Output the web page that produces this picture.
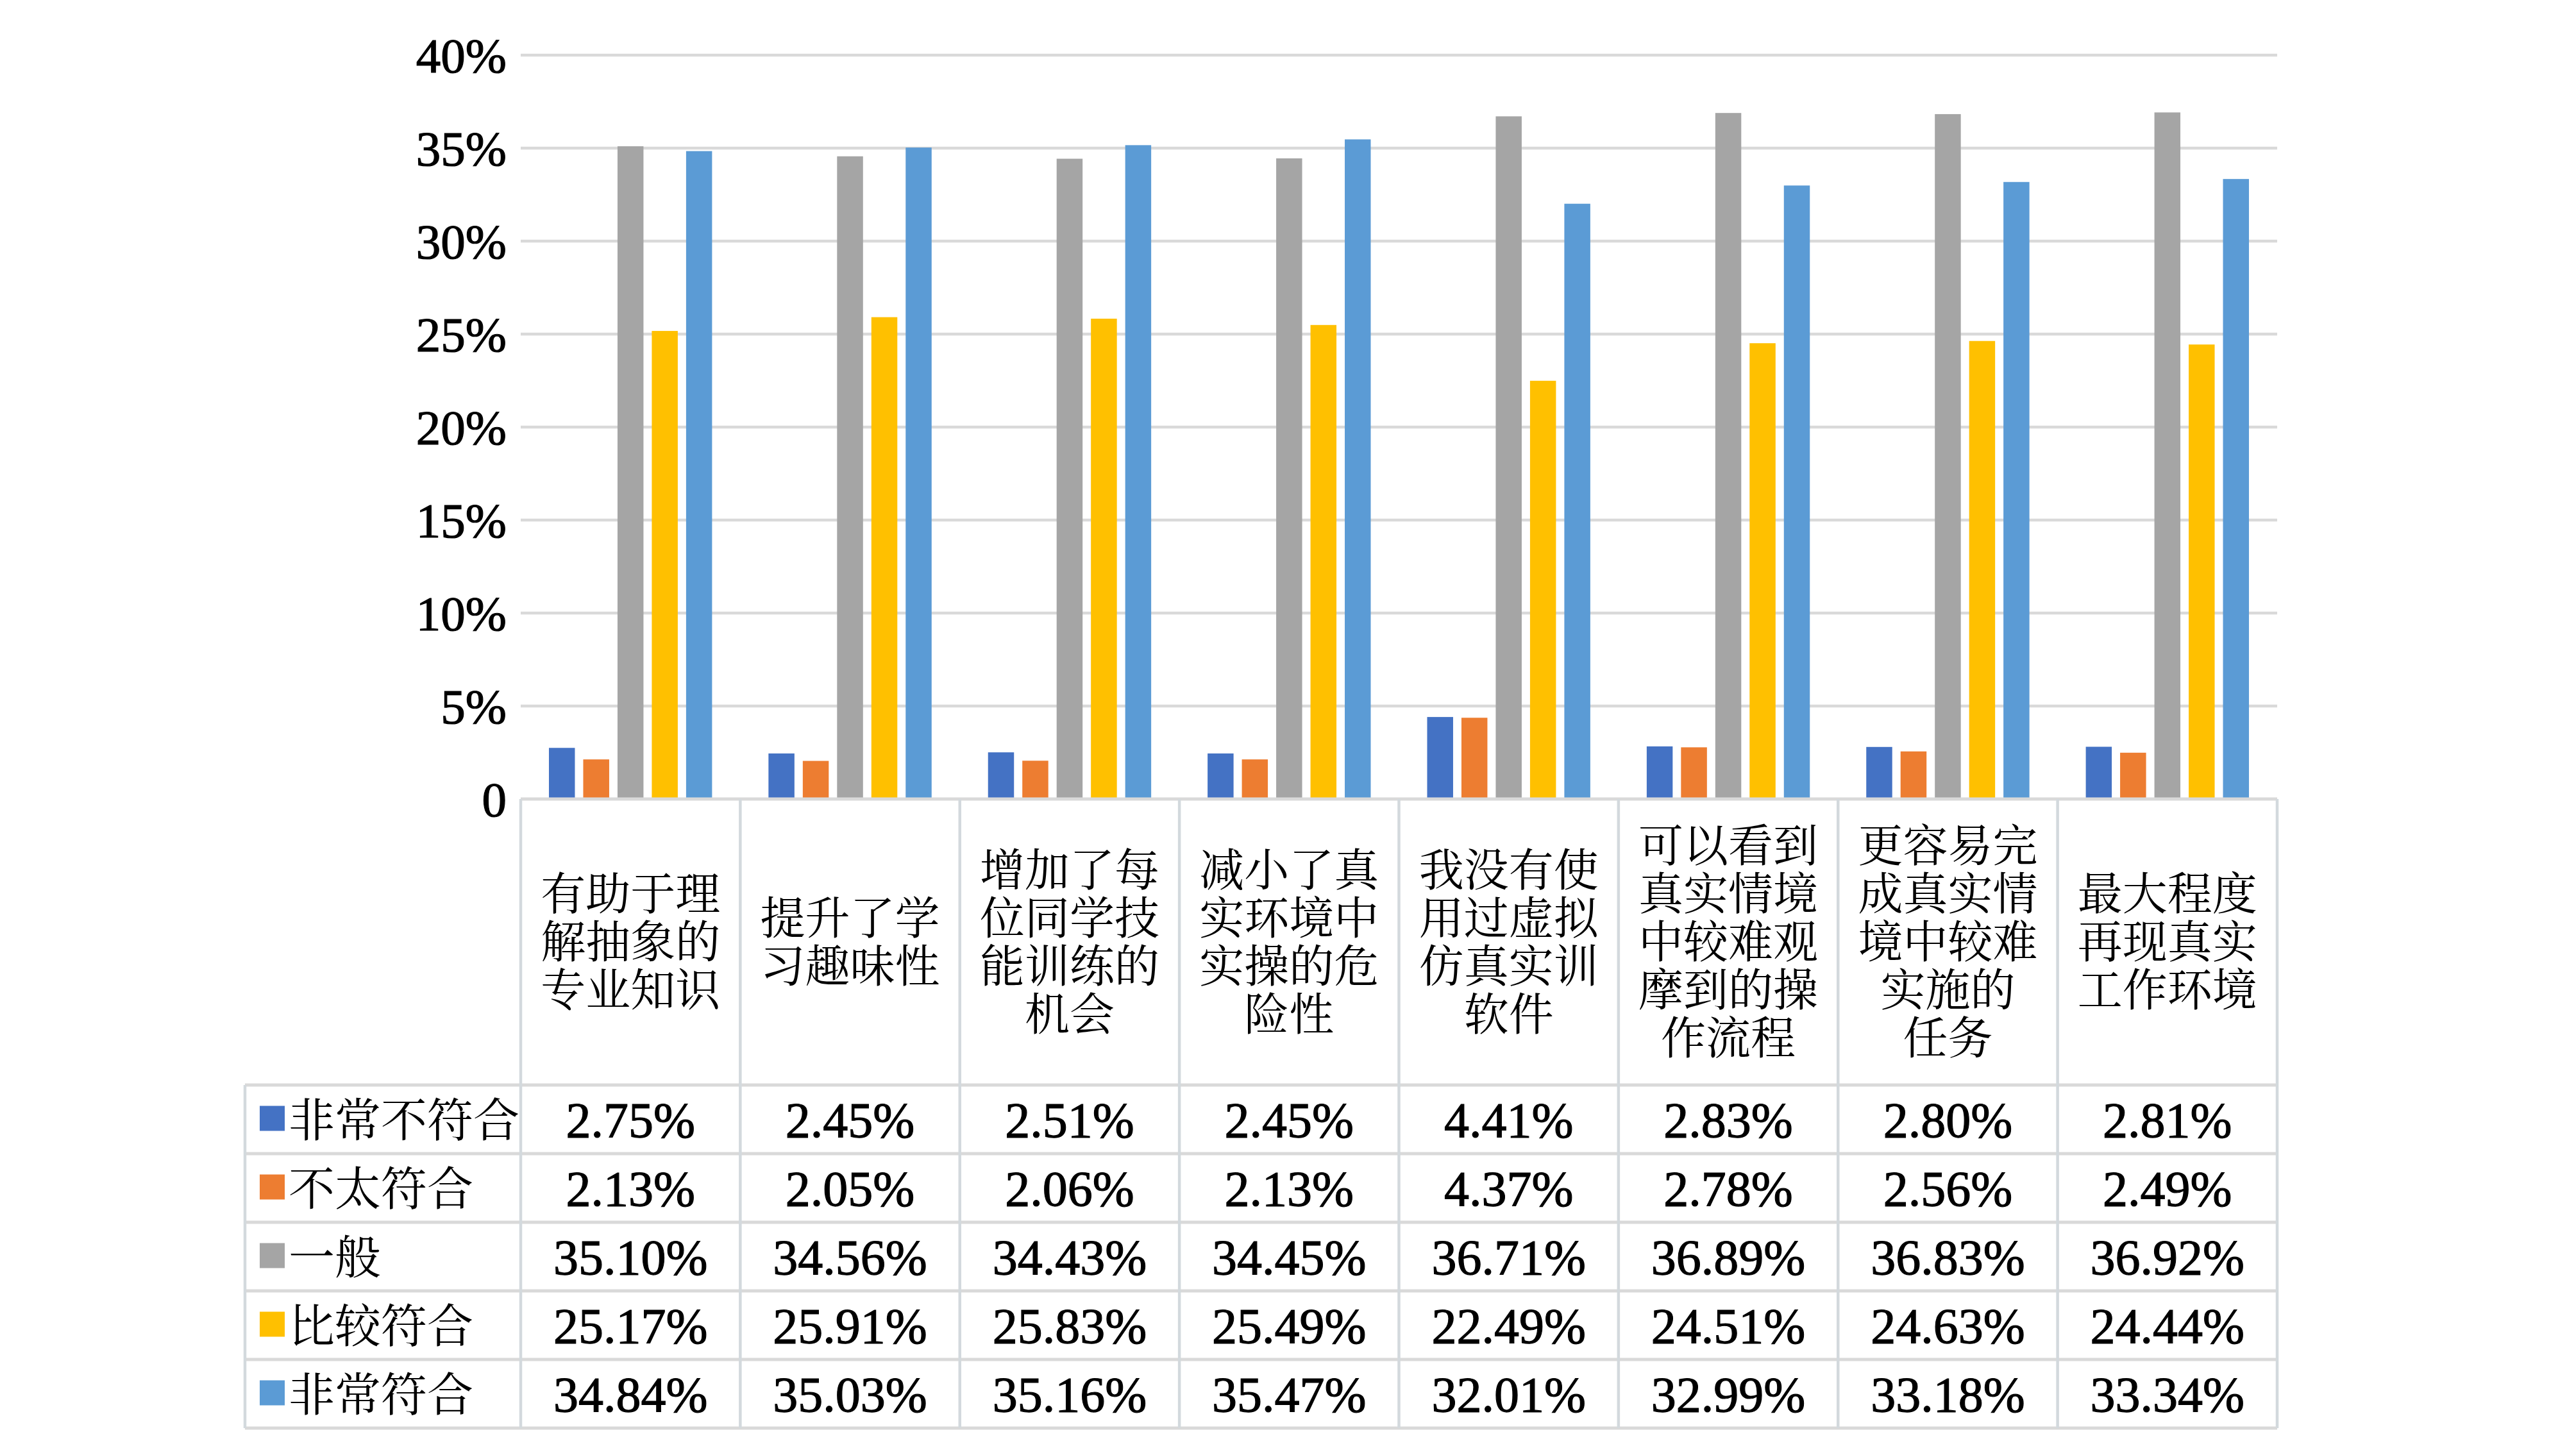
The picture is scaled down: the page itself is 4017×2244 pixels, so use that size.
<!DOCTYPE html>
<html>
<head>
<meta charset="utf-8">
<script src="https://cdn.jsdelivr.net/npm/d3@7"></script>
<style>
  body { margin: 0; background: #fff; }
</style>
</head>
<body>
<div id="chart"></div>
<script>
// categories, one entry per wrapped line as in the picture
var categories = [
    ["有助于理", "解抽象的", "专业知识"],
    ["提升了学", "习趣味性"],
    ["增加了每", "位同学技", "能训练的", "机会"],
    ["减小了真", "实环境中", "实操的危", "险性"],
    ["我没有使", "用过虚拟", "仿真实训", "软件"],
    ["可以看到", "真实情境", "中较难观", "摩到的操", "作流程"],
    ["更容易完", "成真实情", "境中较难", "实施的", "任务"],
    ["最大程度", "再现真实", "工作环境"]
];

var seriesNames = ["非常不符合", "不太符合", "一般", "比较符合", "非常符合"];
var seriesColors = ["#4472C4", "#ED7D31", "#A5A5A5", "#FFC000", "#5B9BD5"];

// values in percent
var veryNot = [2.75, 2.45, 2.51, 2.45, 4.41, 2.83, 2.80, 2.81];
var notQuite = [2.13, 2.05, 2.06, 2.13, 4.37, 2.78, 2.56, 2.49];
var neutral = [35.10, 34.56, 34.43, 34.45, 36.71, 36.89, 36.83, 36.92];
var fairly = [25.17, 25.91, 25.83, 25.49, 22.49, 24.51, 24.63, 24.44];
var very = [34.84, 35.03, 35.16, 35.47, 32.01, 32.99, 33.18, 33.34];

var yTicks = [0, 5, 10, 15, 20, 25, 30, 35, 40];

var seriesValues = [veryNot, notQuite, neutral, fairly, very];

var width = 4017;
var height = 2244;

var plotLeft = 812;
var plotRight = 3551;
var plotTop = 86;
var plotBottom = 1246;
var headerBottom = 1692;
var rowHeight = 107;
var tableLeft = 382;
var lineColor = "#d9d9d9";
var colLineColor = "#d3d9dd";
var serif = "'Liberation Serif', 'Times New Roman', Tinos, 'DejaVu Serif', serif";
var cjk = "'Noto Serif CJK SC', 'Noto Sans CJK SC', sans-serif";

var svg = d3
    .select("#chart")
    .append("svg")
    .attr("width", width)
    .attr("height", height);

var idx = d3.range(categories.length);

var xScale = d3
    .scaleBand()
    .domain(idx)
    .range([plotLeft, plotRight])
    .paddingInner(0.219)
    .paddingOuter(0.1095);

var xSub = d3
    .scaleBand()
    .domain(d3.range(seriesNames.length))
    .range([0, xScale.bandwidth()])
    .paddingInner(0.243)
    .paddingOuter(0.1215);

var yScale = d3
    .scaleLinear()
    .domain([0, 40])
    .range([plotBottom, plotTop]);

var step = (plotRight - plotLeft) / categories.length;

// gridlines
svg.append("g")
    .selectAll("line")
    .data(yTicks.filter(function(t) { return t > 0; }))
    .enter()
    .append("line")
    .attr("x1", plotLeft)
    .attr("x2", plotRight)
    .attr("y1", function(d) { return yScale(d); })
    .attr("y2", function(d) { return yScale(d); })
    .attr("stroke", lineColor)
    .attr("stroke-width", 4.5);

// y labels
svg.append("g")
    .selectAll("text")
    .data(yTicks)
    .enter()
    .append("text")
    .style("font-family", serif)
    .attr("fill", "#000")
    .attr("stroke", "#000")
    .attr("stroke-width", 1.2)
    .attr("x", 790)
    .attr("y", function(d) { return yScale(d) + 27; })
    .attr("text-anchor", "end")
    .attr("font-size", 77)
    .text(function(d) { return d === 0 ? "0" : d + "%"; });

// bars
var groups = svg.append("g")
    .selectAll("g")
    .data(idx)
    .enter()
    .append("g")
    .attr("transform", function(i) { return "translate(" + xScale(i) + ",0)"; });

groups.selectAll("rect")
    .data(function(i) {
        return seriesValues.map(function(vals, s) { return { s: s, v: vals[i] }; });
    })
    .enter()
    .append("rect")
    .attr("x", function(d) { return xSub(d.s); })
    .attr("width", xSub.bandwidth())
    .attr("y", function(d) { return yScale(d.v); })
    .attr("height", function(d) { return plotBottom - yScale(d.v); })
    .attr("fill", function(d) { return seriesColors[d.s]; });

// table: horizontal lines
var tableBottom = headerBottom + rowHeight * seriesNames.length;
var hLines = [plotBottom].concat(d3.range(seriesNames.length + 1).map(function(r) {
    return headerBottom + r * rowHeight;
}));

svg.append("g")
    .selectAll("line")
    .data(hLines)
    .enter()
    .append("line")
    .attr("x1", function(d, i) { return i === 0 ? plotLeft : tableLeft; })
    .attr("x2", plotRight)
    .attr("y1", function(d) { return d; })
    .attr("y2", function(d) { return d; })
    .attr("stroke", lineColor)
    .attr("stroke-width", 5);

// table: vertical lines
var vLines = d3.range(categories.length + 1).map(function(i) { return plotLeft + i * step; });

svg.append("g")
    .selectAll("line")
    .data(vLines)
    .enter()
    .append("line")
    .attr("x1", function(d) { return d; })
    .attr("x2", function(d) { return d; })
    .attr("y1", plotBottom)
    .attr("y2", tableBottom)
    .attr("stroke", colLineColor)
    .attr("stroke-width", 4.5);

svg.append("line")
    .attr("x1", tableLeft)
    .attr("x2", tableLeft)
    .attr("y1", headerBottom)
    .attr("y2", tableBottom)
    .attr("stroke", colLineColor)
    .attr("stroke-width", 4.5);

// category header text, one text per wrapped line
var headerMid = (plotBottom + headerBottom) / 2;
var lineH = 75;

var headerLines = [];
categories.forEach(function(lines, i) {
    lines.forEach(function(l, k) {
        headerLines.push({ i: i, t: l, k: k, n: lines.length });
    });
});

svg.append("g")
    .selectAll("text")
    .data(headerLines)
    .enter()
    .append("text")
    .style("font-family", cjk)
    .attr("fill", "#000")
    .attr("text-anchor", "middle")
    .attr("font-size", 70)
    .attr("x", function(d) { return plotLeft + (d.i + 0.5) * step; })
    .attr("y", function(d) { return headerMid + (d.k - (d.n - 1) / 2) * lineH + 25; })
    .text(function(d) { return d.t; });

// legend column
var rows = svg.append("g")
    .selectAll("g")
    .data(seriesNames)
    .enter()
    .append("g")
    .attr("transform", function(d, r) { return "translate(0," + (headerBottom + r * rowHeight) + ")"; });

rows.append("rect")
    .attr("x", 405)
    .attr("y", rowHeight / 2 - 21)
    .attr("width", 39)
    .attr("height", 39)
    .attr("fill", function(d, r) { return seriesColors[r]; });

rows.append("text")
    .style("font-family", cjk)
    .attr("fill", "#000")
    .attr("x", 450)
    .attr("y", rowHeight / 2 + 26)
    .attr("font-size", 72)
    .text(function(d) { return d; });

// value cells
rows.selectAll("text.val")
    .data(function(d, r) { return seriesValues[r]; })
    .enter()
    .append("text")
    .attr("class", "val")
    .style("font-family", serif)
    .attr("fill", "#000")
    .attr("stroke", "#000")
    .attr("stroke-width", 1.2)
    .attr("x", function(v, i) { return plotLeft + (i + 0.5) * step; })
    .attr("y", rowHeight / 2 + 27)
    .attr("text-anchor", "middle")
    .attr("font-size", 78)
    .text(function(v) { return v.toFixed(2) + "%"; });
</script>
</body>
</html>
